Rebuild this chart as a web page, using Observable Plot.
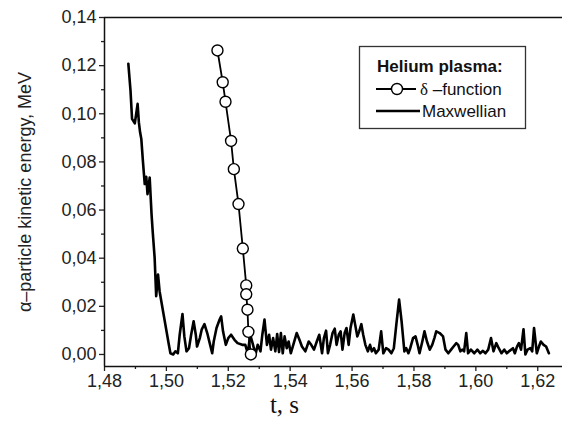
<!DOCTYPE html>
<html>
<head>
<meta charset="utf-8">
<script src="https://cdn.jsdelivr.net/npm/d3@7"></script>
<script src="https://cdn.jsdelivr.net/npm/@observablehq/plot@0.6"></script>
<style>
  html, body { margin: 0; padding: 0; background: #fff; }
  #wrap { position: relative; width: 562px; height: 429px; overflow: hidden; }
  #legend { position: absolute; left: 0; top: 0; pointer-events: none; }
</style>
</head>
<body>
<div id="wrap"></div>
<script>
// Maxwellian distribution: time (s) and α-particle energy (MeV)
const maxT = [
  1.4877,1.4884,1.4889,1.4898,1.4907,1.4911,1.4915,1.4919,1.4924,1.4930,1.4935,1.4939,1.4946,1.4952,1.4956,1.4962,1.4967,1.4973,1.4978,1.4991,1.5008,
  1.5013,1.5022,1.5029,1.5037,1.5043,1.5052,1.5058,1.5065,1.5073,1.5080,1.5088,1.5095,1.5099,1.5108,1.5114,1.5123,1.5132,1.5140,1.5148,1.5153,
  1.5162,1.5172,1.5177,1.5183,1.5192,1.5200,1.5209,1.5220,1.5230,1.5245,1.5255,1.5263,1.5271,1.5280,1.5288,1.5295,1.5304,1.5310,1.5317,1.5325,
  1.5332,1.5338,1.5345,1.5352,1.5358,1.5364,1.5370,1.5376,1.5382,
  1.5389,1.5395,1.5402,1.5410,1.5421,1.5430,1.5438,1.5449,1.5460,1.5468,1.5477,1.5486,1.5494,1.5503,1.5509,1.5516,1.5522,1.5529,1.5537,1.5544,
  1.5550,1.5557,1.5563,1.5569,1.5576,1.5582,1.5589,1.5595,1.5604,1.5610,1.5617,1.5623,1.5630,1.5636,1.5643,1.5651,1.5658,1.5664,1.5671,1.5677,
  1.5686,1.5694,1.5701,1.5710,1.5718,1.5727,1.5735,
  1.5743,1.5752,1.5760,1.5769,1.5775,1.5782,1.5788,1.5797,1.5805,1.5812,1.5818,1.5827,1.5834,1.5842,1.5851,1.5859,1.5866,1.5872,1.5883,1.5894,
  1.5902,1.5911,1.5920,1.5928,1.5937,1.5943,1.5950,1.5956,1.5962,1.5969,1.5975,1.5984,1.5995,1.6005,1.6014,1.6023,1.6031,1.6040,1.6049,1.6057,
  1.6066,1.6074,1.6083,1.6092,1.6100,1.6109,
  1.6120,1.6126,1.6133,1.6139,1.6146,1.6154,1.6160,1.6167,1.6176,1.6182,1.6188,1.6197,1.6204,1.6210,1.6219,1.6227,1.6236
];
const maxE = [
  0.1208,0.1097,0.0979,0.0960,0.1041,0.0965,0.0923,0.0895,0.0805,0.0708,0.0738,0.0666,0.0735,0.0583,0.0506,0.0402,0.0242,0.0332,0.0263,0.0166,0.0040,
  0.0005,0.0000,0.0013,0.0005,0.0082,0.0168,0.0075,0.0013,0.0026,0.0082,0.0138,0.0082,0.0033,0.0068,0.0103,0.0126,0.0089,0.0047,0.0005,0.0054,
  0.0110,0.0145,0.0158,0.0096,0.0040,0.0068,0.0082,0.0061,0.0047,0.0040,0.0040,0.0005,0.0082,0.0040,0.0000,0.0040,0.0013,0.0082,0.0145,0.0040,
  0.0082,0.0020,0.0068,0.0013,0.0085,0.0010,0.0089,0.0005,0.0075,
  0.0026,0.0054,0.0005,0.0040,0.0089,0.0061,0.0033,0.0013,0.0054,0.0040,0.0020,0.0054,0.0082,0.0005,0.0068,0.0099,0.0005,0.0040,0.0089,0.0107,
  0.0040,0.0082,0.0096,0.0020,0.0089,0.0110,0.0040,0.0110,0.0166,0.0124,0.0075,0.0096,0.0126,0.0082,0.0040,0.0013,0.0040,0.0013,0.0026,0.0005,
  0.0020,0.0096,0.0005,0.0026,0.0020,0.0005,0.0026,
  0.0124,0.0228,0.0138,0.0013,0.0026,0.0005,0.0026,0.0068,0.0075,0.0040,0.0005,0.0054,0.0096,0.0054,0.0020,0.0040,0.0068,0.0096,0.0089,0.0075,
  0.0020,0.0005,0.0020,0.0033,0.0047,0.0040,0.0013,0.0020,0.0013,0.0089,0.0005,0.0020,0.0005,0.0020,0.0005,0.0015,0.0005,0.0020,0.0068,0.0013,
  0.0047,0.0026,0.0005,0.0020,0.0005,0.0015,
  0.0026,0.0005,0.0033,0.0047,0.0020,0.0105,0.0000,0.0020,0.0026,0.0013,0.0110,0.0005,0.0033,0.0054,0.0040,0.0033,0.0005
];
// δ-function distribution
const deltaT = [1.5165,1.5182,1.5191,1.5209,1.5218,1.5233,1.5247,1.5258,1.5258,1.5262,1.5265,1.5273];
const deltaE = [0.1263,0.1131,0.1050,0.0887,0.0770,0.0625,0.0440,0.0287,0.0250,0.0186,0.0094,0.0000];

// Axes
const xTicks = [1.48,1.50,1.52,1.54,1.56,1.58,1.60,1.62];
const xMinor = [1.49,1.51,1.53,1.55,1.57,1.59,1.61];
const yTicks = [0.00,0.02,0.04,0.06,0.08,0.10,0.12,0.14];
const yMinor = [0.01,0.03,0.05,0.07,0.09,0.11,0.13];
const xDomain = [1.48, 1.628];
const yDomain = [-0.005, 0.14];
const xLabel = "t, s";
const yLabel = "α–particle kinetic energy, MeV";
const legendTitle = "Helium plasma:";
const legendDelta = ["δ", " –function"];
const legendMax = "Maxwellian";

const maxData = maxT.map((t, i) => ({t, e: maxE[i]}));
const deltaData = deltaT.map((t, i) => ({t, e: deltaE[i]}));
const fmt = d => d.toFixed(2).replace(".", ",");

const chart = Plot.plot({
  width: 562,
  height: 429,
  marginLeft: 104,
  marginRight: 0,
  marginTop: 17,
  marginBottom: 63,
  x: {domain: xDomain},
  y: {domain: yDomain},
  style: {fontFamily: "'Liberation Sans', Arial, sans-serif", fontSize: "18px", color: "#222", background: "white"},
  marks: [
    Plot.axisX({ticks: xTicks, tickSize: 5, tickPadding: 3, tickFormat: fmt, label: null, strokeWidth: 1.3}),
    Plot.axisX({ticks: xMinor, tickSize: 3, tickFormat: () => "", label: null, strokeWidth: 1.3}),
    Plot.axisY({ticks: yTicks, tickSize: 5, tickPadding: 3, tickFormat: fmt, label: yLabel,
                labelAnchor: "center", labelOffset: 86, labelArrow: false, strokeWidth: 1.3}),
    Plot.axisY({ticks: yMinor, tickSize: 3, tickFormat: () => "", label: null, strokeWidth: 1.3}),
    Plot.ruleX([xDomain[0]], {stroke: "#111", strokeWidth: 1.5}),
    Plot.ruleY([yDomain[0]], {stroke: "#111", strokeWidth: 1.5}),
    Plot.ruleY([yDomain[1]], {stroke: "#111", strokeWidth: 1.5}),
    Plot.line(maxData, {x: "t", y: "e", stroke: "#000", strokeWidth: 2.6, strokeLinejoin: "round"}),
    Plot.line(deltaData, {x: "t", y: "e", stroke: "#000", strokeWidth: 1.8}),
    Plot.dot(deltaData, {x: "t", y: "e", r: 5.5, fill: "#fff", stroke: "#000", strokeWidth: 1.4}),
    Plot.text([xLabel], {frameAnchor: "bottom", dx: -49, dy: 46, fontFamily: "'Liberation Serif', 'Times New Roman', serif", fontSize: 25, fill: "#111"})
  ]
});
const wrap = document.getElementById("wrap");
wrap.appendChild(chart);

// Legend overlay
const ns = "http://www.w3.org/2000/svg";
const lg = document.createElementNS(ns, "svg");
lg.setAttribute("id", "legend");
lg.setAttribute("width", 562);
lg.setAttribute("height", 429);
lg.innerHTML = `
  <rect x="359.5" y="46.5" width="166" height="82" fill="#fff" stroke="#333" stroke-width="1.3"/>
  <text x="377" y="72" font-family="'Liberation Sans', Arial, sans-serif" font-size="17" font-weight="bold" fill="#111">${legendTitle}</text>
  <line x1="376" x2="416" y1="89" y2="89" stroke="#000" stroke-width="2"/>
  <circle cx="397" cy="89" r="5.5" fill="#fff" stroke="#000" stroke-width="1.4"/>
  <text x="420" y="95" font-family="'Liberation Sans', Arial, sans-serif" font-size="17" fill="#111"><tspan font-family="'Liberation Serif', serif">${legendDelta[0]}</tspan>${legendDelta[1]}</text>
  <line x1="376" x2="420" y1="111" y2="111" stroke="#000" stroke-width="2.4"/>
  <text x="422" y="117" font-family="'Liberation Sans', Arial, sans-serif" font-size="17" fill="#111">${legendMax}</text>
`;
wrap.appendChild(lg);
</script>
</body>
</html>
